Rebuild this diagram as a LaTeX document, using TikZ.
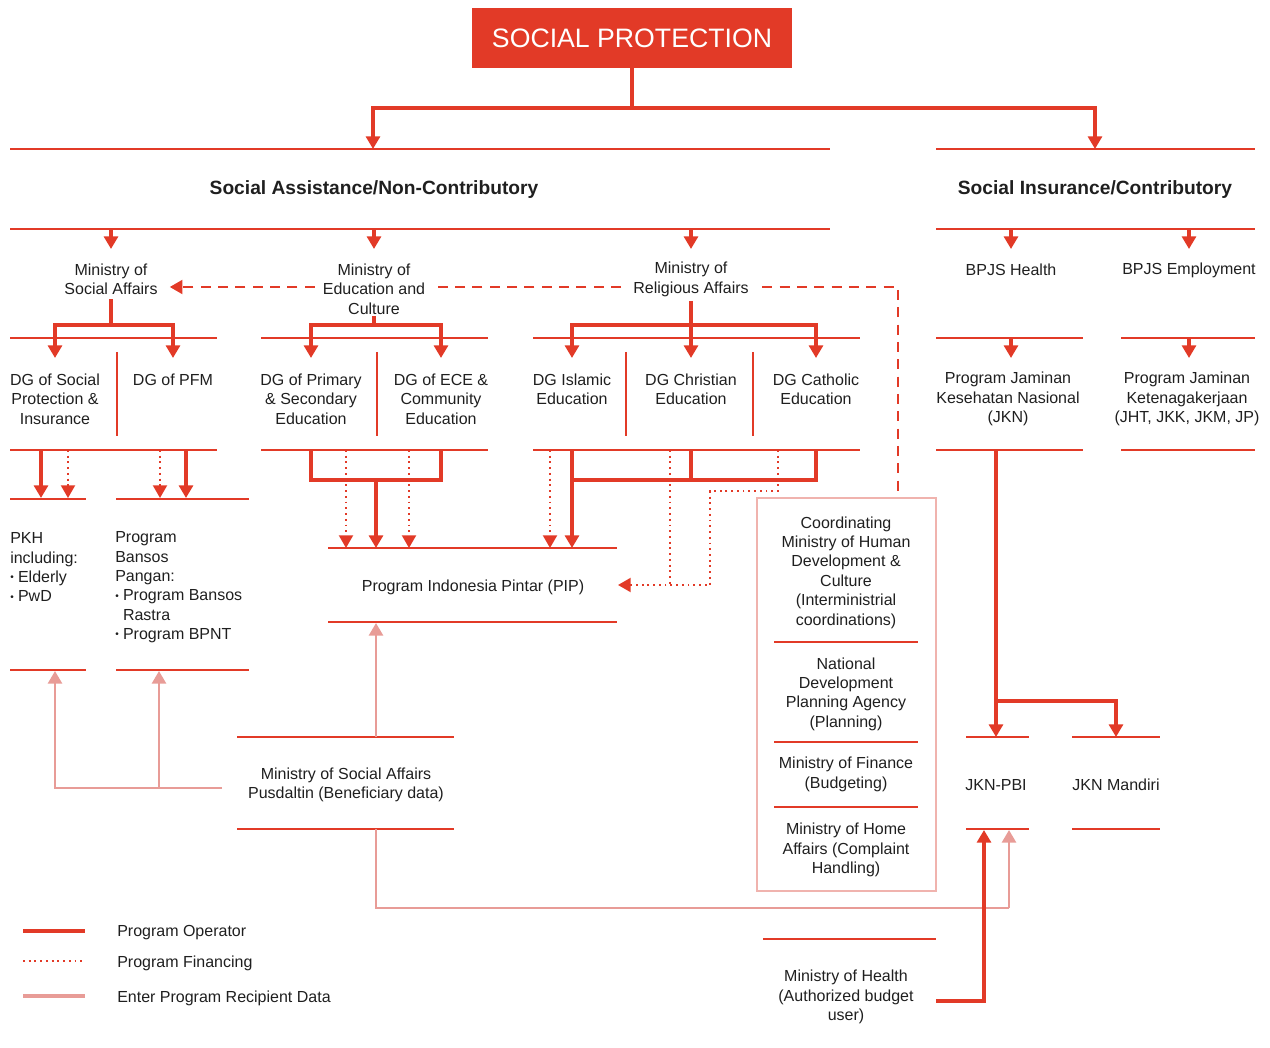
\documentclass[tikz,border=0pt]{standalone}
\usepackage{fontspec}
\setmainfont{Liberation Sans}
\usetikzlibrary{arrows.meta}
\definecolor{pred}{HTML}{E23A27}
\definecolor{ppink}{HTML}{E89C97}
\definecolor{pbox}{HTML}{F0B3AE}
\newcommand\mybul{\raisebox{1.4pt}{\fontsize{7.5}{7.5}\selectfont\textbullet}\hspace{3.2pt}}
\begin{document}
\begin{tikzpicture}[x=0.75pt,y=-0.75pt,
  every node/.style={inner sep=0pt, align=center, text=black!88, font=\fontsize{12}{14.55}\selectfont},
  divider/.style={draw=pred, line width=1pt},
  tip/.style={-{Triangle[width=10.5pt,length=9.5pt]}},
  operline/.style={draw=pred, line width=2.3pt},
  oper/.style={operline, tip},
  fin/.style={draw=pred, line width=1.5pt, dash pattern=on 1.4pt off 2.9pt, tip},
  finline/.style={draw=pred, line width=1.5pt, dash pattern=on 1.4pt off 2.9pt},
  data/.style={draw=ppink, line width=2.1pt, tip},
  dataline/.style={draw=ppink, line width=2.1pt},
  coord/.style={draw=pred, line width=1.6pt, dash pattern=on 7.5pt off 5.5pt},
  titlefont/.style={font=\bfseries\fontsize{14.4}{17}\selectfont},
]
\useasboundingbox (0,0) rectangle (1270,1048);

% ---------- title ----------
\node[fill=pred, minimum width=240pt, minimum height=45pt, text=white,
      font=\fontsize{20}{24}\selectfont] (sp) at (632,38) {SOCIAL PROTECTION};
\coordinate (j0) at (632,108);
\coordinate (saT) at (373,149);
\coordinate (siT) at (1095,149);
\draw[operline] (sp.south) -- (j0);
\draw[oper] (j0) -| (saT);
\draw[oper] (j0) -| (siT);

% ---------- dividers ----------
\foreach \y in {149,229}{
  \draw[divider] (10,\y) -- (830,\y);
  \draw[divider] (936,\y) -- (1255,\y);
}
\foreach \y in {338,450}{
  \draw[divider] (10,\y) -- (217,\y);
  \draw[divider] (261,\y) -- (488,\y);
  \draw[divider] (533,\y) -- (860,\y);
  \draw[divider] (936,\y) -- (1083,\y);
  \draw[divider] (1121,\y) -- (1255,\y);
}
\foreach \x in {117,377,626,753}{
  \draw[divider] (\x,352) -- (\x,436);
}
\foreach \y in {499,670}{
  \draw[divider] (10,\y) -- (86,\y);
  \draw[divider] (116,\y) -- (249,\y);
}
\foreach \y in {548,622}{
  \draw[divider] (328,\y) -- (617,\y);
}
\foreach \y in {737,829}{
  \draw[divider] (237,\y) -- (454,\y);
  \draw[divider] (966,\y) -- (1029,\y);
  \draw[divider] (1072,\y) -- (1160,\y);
}
\draw[divider] (763,939) -- (936,939);

% ---------- section titles ----------
\node[titlefont] (sa) at (374,190) {Social Assistance/Non-Contributory};
\node[titlefont] (si) at (1095,190) {Social Insurance/Contributory};

% ---------- level 2 ----------
\node (msa) at (111,279.5) {Ministry of\\Social Affairs};
\node (mec) at (374,289) {Ministry of\\Education and\\Culture};
\node (mra) at (691,279.5) {Ministry of\\Religious Affairs};
\node (bh) at (1011,270) {BPJS Health};
\node (be) at (1189,270) {BPJS Employment};

\foreach \x/\n in {111/a,374/b,691/c,1011/d,1189/e}{
  \coordinate (l2s\n) at (\x,229);
  \coordinate (l2e\n) at (\x,249);
  \draw[oper] (l2s\n) -- (l2e\n);
}

% dashed coordination line
\coordinate (dy) at (0,287);
\draw[coord, shorten <=9pt, shorten >=6pt] (mra.west |- dy) -- (mec.east |- dy);
\draw[coord, tip, shorten >=9pt, shorten <=6pt] (mec.west |- dy) -- (msa.east |- dy);
\coordinate (cbin) at (898,498);
\draw[coord, shorten <=10pt] (mra.east |- dy) -| (cbin);

% ---------- level 3 ----------
\node (dg1) at (55,399) {DG of Social\\Protection \&\\Insurance};
\node (dg2) at (173,380) {DG of PFM};
\node (dg3) at (311,399) {DG of Primary\\\& Secondary\\Education};
\node (dg4) at (441,399) {DG of ECE \&\\Community\\Education};
\node (dg5) at (572,389.5) {DG Islamic\\Education};
\node (dg6) at (691,389.5) {DG Christian\\Education};
\node (dg7) at (816,389.5) {DG Catholic\\Education};
\node (pj1) at (1008,399) {Program Jaminan\\Kesehatan Nasional\\(JKN)};
\node (pj2) at (1187,399) {Program Jaminan\\Ketenagakerjaan\\(JHT, JKK, JKM, JP)};

% social affairs tree
\coordinate (msaJ) at (111,325);
\coordinate (dg1T) at (55,358);
\coordinate (dg2T) at (173,358);
\draw[operline, shorten <=3pt] (msa.south) -- (msaJ);
\draw[oper] (msaJ) -| (dg1T);
\draw[oper] (msaJ) -| (dg2T);

% education tree
\coordinate (mecJ) at (374,325);
\coordinate (dg3T) at (311,358);
\coordinate (dg4T) at (441,358);
\draw[operline, shorten <=1pt] (mec.south) -- (mecJ);
\draw[oper] (mecJ) -| (dg3T);
\draw[oper] (mecJ) -| (dg4T);

% religious tree
\coordinate (mraJ) at (691,325);
\coordinate (dg5T) at (572,358);
\coordinate (dg6T) at (691,358);
\coordinate (dg7T) at (816,358);
\draw[oper, shorten <=3pt] (mra.south) -- (dg6T);
\draw[oper] (mraJ) -| (dg5T);
\draw[oper] (mraJ) -| (dg7T);

% BPJS
\coordinate (bhB) at (1011,338);
\coordinate (beB) at (1189,338);
\coordinate (pj1T) at (1011,358);
\coordinate (pj2T) at (1189,358);
\draw[oper] (bhB) -- (pj1T);
\draw[oper] (beB) -- (pj2T);

% ---------- programmes (social affairs) ----------
\node[anchor=north west, align=left] (pkh) at (10,532.5) {PKH\\including:\\\mybul Elderly\\\mybul PwD};
\node[anchor=north west, align=left] (bansos) at (115,531.5) {Program\\Bansos\\Pangan:\\\mybul Program Bansos\\\phantom{\mybul}Rastra\\\mybul Program BPNT};

\coordinate (s1a) at (41,450);  \coordinate (s1b) at (41,498);
\coordinate (s2a) at (68,450);  \coordinate (s2b) at (68,498);
\coordinate (s3a) at (160,450); \coordinate (s3b) at (160,498);
\coordinate (s4a) at (186,450); \coordinate (s4b) at (186,498);
\draw[oper] (s1a) -- (s1b);
\draw[fin] (s2a) -- (s2b);
\draw[fin] (s3a) -- (s3b);
\draw[oper] (s4a) -- (s4b);

% ---------- PIP ----------
\node (pip) at (473,587) {Program Indonesia Pintar (PIP)};
\coordinate (e1) at (311,450); \coordinate (e2) at (441,450);
\coordinate (eJl) at (311,480); \coordinate (eJr) at (441,480);
\coordinate (eJ) at (376,480); \coordinate (pipE) at (376,548);
\draw[operline] (e1) -- (eJl) -- (eJr) -- (e2);
\draw[oper] (eJ) -- (pipE);
\coordinate (ef1) at (346,450); \coordinate (ef1b) at (346,548);
\coordinate (ef2) at (409,450); \coordinate (ef2b) at (409,548);
\draw[fin] (ef1) -- (ef1b);
\draw[fin] (ef2) -- (ef2b);

\coordinate (r1) at (572,450); \coordinate (r2) at (691,450); \coordinate (r3) at (816,450);
\coordinate (rJl) at (572,480); \coordinate (rJm) at (691,480); \coordinate (rJr) at (816,480);
\coordinate (pipR) at (572,548);
\draw[operline] (r1) -- (rJl) -- (rJr) -- (r3);
\draw[operline] (r2) -- (rJm);
\draw[oper] (rJl) -- (pipR);
\coordinate (rf1) at (550,450); \coordinate (rf1b) at (550,548);
\draw[fin] (rf1) -- (rf1b);
\coordinate (rf2) at (670,450); \coordinate (rf2b) at (670,585);
\draw[finline] (rf2) -- (rf2b);
\coordinate (rf3) at (778,450); \coordinate (rf3k) at (710,491);
\coordinate (pipSide) at (618,585);
\draw[fin] (rf3) |- (rf3k) |- (pipSide);

% ---------- Pusdaltin ----------
\node (pus) at (346,785) {Ministry of Social Affairs\\Pusdaltin (Beneficiary data)};
\coordinate (pusT) at (376,737);
\coordinate (pipB) at (376,623);
\draw[data] (pusT) -- (pipB);
\coordinate (pusL) at (222,788);
\coordinate (pkhB) at (55,671);
\coordinate (bJ) at (159,788);
\coordinate (banB) at (159,671);
\draw[data] (pusL) -| (pkhB);
\draw[data] (bJ) -- (banB);
\coordinate (pusB) at (376,829);
\coordinate (pbiD) at (1009,908);
\coordinate (pbiB1) at (1009,830);
\draw[dataline] (pusB) |- (pbiD);
\draw[data] (pbiD) -- (pbiB1);

% ---------- coordinating box ----------
\node[draw=pbox, line width=1.3pt, minimum width=134.25pt, minimum height=294.75pt] (cbox) at (846.5,694.5) {};
\foreach \y in {642,742,807}{
  \draw[divider] (774,\y) -- (918,\y);
}
\node (c1) at (846,572.5) {Coordinating\\Ministry of Human\\Development \&\\Culture\\(Interministrial\\coordinations)};
\node (c2) at (846,694) {National\\Development\\Planning Agency\\(Planning)};
\node (c3) at (846,774.5) {Ministry of Finance\\(Budgeting)};
\node (c4) at (846,850) {Ministry of Home\\Affairs (Complaint\\Handling)};

% ---------- JKN ----------
\node (pbi) at (996,785) {JKN-PBI};
\node (mand) at (1116,785) {JKN Mandiri};
\coordinate (jk0) at (996,450);
\coordinate (jkJ) at (996,701);
\coordinate (pbiT) at (996,737);
\coordinate (manT) at (1116,737);
\draw[oper] (jk0) -- (pbiT);
\draw[oper] (jkJ) -| (manT);

% ---------- Ministry of Health ----------
\node (moh) at (846,997) {Ministry of Health\\(Authorized budget\\user)};
\coordinate (mohR) at (936,1001);
\coordinate (pbiB2) at (984,830);
\draw[oper] (mohR) -| (pbiB2);

% ---------- legend ----------
\coordinate (la1) at (23,931); \coordinate (la2) at (85,931);
\coordinate (lb1) at (23,961); \coordinate (lb2) at (85,961);
\coordinate (lc1) at (23,996); \coordinate (lc2) at (85,996);
\draw[operline] (la1) -- (la2);
\draw[finline] (lb1) -- (lb2);
\draw[dataline, line width=2.3pt] (lc1) -- (lc2);
\node[anchor=west] (lga) at (117,933) {Program Operator};
\node[anchor=west] (lgb) at (117,963) {Program Financing};
\node[anchor=west] (lgc) at (117,998) {Enter Program Recipient Data};
\end{tikzpicture}
\end{document}
